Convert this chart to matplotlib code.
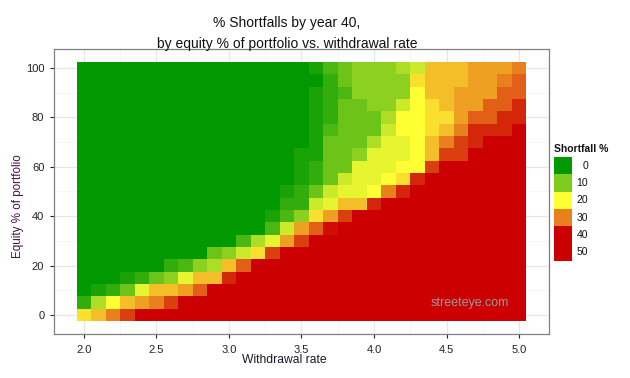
import numpy as np
import matplotlib
matplotlib.use("Agg")
import matplotlib.pyplot as plt
from matplotlib.colors import LinearSegmentedColormap

plt.rcParams['font.family'] = ['Liberation Sans', 'DejaVu Sans']

# Withdrawal rates (x) and equity % (y)
withdrawal_rates = [round(2.0 + 0.1 * i, 1) for i in range(31)]
equity_pcts = [0, 5, 10, 15, 20, 25, 30, 35, 40, 45, 50,
               55, 60, 65, 70, 75, 80, 85, 90, 95, 100]

R = 45  # fully red (>= 40)
# Shortfall % by equity level (one list per equity row, across withdrawal rates 2.0..5.0)
eq0   = [22.5, 25, 30, 35] + [R] * 27
eq5   = [4, 13.5, 20, 25, 27.5, 30, 35] + [R] * 24
eq10  = [0, 2, 4, 8.5, 18, 25, 25, 27.5, 32.5] + [R] * 22
eq15  = [0, 0, 0, 2, 4, 8.5, 11, 18, 25, 25, 37] + [R] * 20
eq20  = [0] * 6 + [4, 6, 11, 13.5, 25, 32.5] + [R] * 19
eq25  = [0] * 9 + [8.5, 11, 16, 22.5, 35] + [R] * 17
eq30  = [0] * 11 + [6, 13.5, 18, 27.5, 35] + [R] * 15
eq35  = [0] * 13 + [6, 16, 27.5, 32.5, 39] + [R] * 13
eq40  = [0] * 13 + [2, 6, 11, 22.5, 27.5, 35] + [R] * 12
eq45  = [0] * 14 + [4, 4, 16, 18, 25, 25, 37] + [R] * 10
eq50  = [0] * 14 + [2, 4, 8.5, 16, 18, 18, 20, 30, 37] + [R] * 8
eq55  = [0] * 15 + [2, 4, 8.5, 16, 18, 18, 20, 22.5, 37] + [R] * 7
eq60  = [0] * 15 + [2, 4, 8.5, 8.5, 18, 18, 18, 20, 20, 35] + [R] * 6
eq65  = [0] * 15 + [2, 2, 8.5, 8.5, 11, 18, 18, 18, 20, 25, 35, 35] + [R] * 4
eq70  = [0] * 16 + [2, 8.5, 8.5, 8.5, 13.5, 18, 18, 20, 25, 30, 35, 37] + [R] * 3
eq75  = [0] * 16 + [2, 6, 8.5, 8.5, 8.5, 16, 20, 20, 22.5, 25, 30, 37, 37, 37, R]
eq80  = [0] * 16 + [2, 4, 8.5, 8.5, 8.5, 13.5, 20, 20, 22.5, 22.5, 27.5, 32.5, 32.5, 37, 37]
eq85  = [0] * 16 + [2, 4, 8.5, 8.5, 11, 11, 16, 20, 22.5, 25, 27.5, 27.5, 32.5, 32.5, 37]
eq90  = [0] * 16 + [2, 4, 6, 11, 11, 11, 11, 20, 25, 25, 27.5, 27.5, 27.5, 32.5, 32.5]
eq95  = [0] * 17 + [4, 8.5, 11, 11, 11, 11, 22.5, 25, 25, 25, 27.5, 27.5, 30, 32.5]
eq100 = [0] * 16 + [2, 6, 8.5, 11, 11, 11, 13.5, 16, 25, 25, 25, 27.5, 27.5, 27.5, 30]

rows = [eq0, eq5, eq10, eq15, eq20, eq25, eq30, eq35, eq40, eq45, eq50,
        eq55, eq60, eq65, eq70, eq75, eq80, eq85, eq90, eq95, eq100]
Z = np.array(rows, dtype=float)

legend_breaks = [0, 10, 20, 30, 40, 50]

cmap = LinearSegmentedColormap.from_list(
    "shortfall",
    [(0.0, '#009900'), (0.2, '#80CC1E'), (0.4, '#FFFF33'),
     (0.6, '#E8801E'), (0.8, '#CC0000'), (1.0, '#CC0000')])

fig = plt.figure(figsize=(6.3, 3.78), dpi=100)
W, H = 630, 378
ax = fig.add_axes([54 / W, 1 - 334 / H, (549 - 54) / W, (334 - 49) / H])

x = np.array(withdrawal_rates)
y = np.array(equity_pcts, dtype=float)
dx = 0.1
dy = 5.0
xe = np.concatenate([x - dx / 2, [x[-1] + dx / 2]])
ye = np.concatenate([y - dy / 2, [y[-1] + dy / 2]])

# grid
for v in np.arange(2.0, 5.01, 0.5):
    ax.axvline(v, color='#E6E6E6', lw=0.9, zorder=0)
for v in np.arange(1.75, 5.3, 0.5):
    ax.axvline(v, color='#F2F2F2', lw=0.5, zorder=0)
for v in range(0, 101, 20):
    ax.axhline(v, color='#E6E6E6', lw=0.9, zorder=0)
for v in range(-10, 111, 20):
    ax.axhline(v, color='#F2F2F2', lw=0.5, zorder=0)

ax.pcolormesh(xe, ye, Z, cmap=cmap, vmin=0, vmax=50, shading='flat', zorder=2)

xr = xe[-1] - xe[0]
yr = ye[-1] - ye[0]
ax.set_xlim(xe[0] - 0.05 * xr, xe[-1] + 0.05 * xr)
ax.set_ylim(ye[0] - 0.05 * yr, ye[-1] + 0.05 * yr)

ax.set_xticks(np.arange(2.0, 5.01, 0.5))
ax.set_xticklabels([f"{v:.1f}" for v in np.arange(2.0, 5.01, 0.5)])
ax.set_yticks(range(0, 101, 20))
ax.tick_params(axis='both', labelsize=8, colors='#222222', length=3, width=0.8,
               direction='out')
ax.tick_params(axis='x', pad=5)
ax.tick_params(axis='y', pad=4)
for sp in ax.spines.values():
    sp.set_color('#808080')
    sp.set_linewidth(0.9)

fig.text(284.5 / W, 1 - 360 / H, "Withdrawal rate", ha='center', va='center',
         fontsize=8.7, color='#1a1a2a')
fig.text(18 / W, 1 - 206 / H, "Equity % of portfolio", ha='center', va='center',
         rotation=90, fontsize=8.4, color='#4a1048')

fig.text(287 / W, 1 - 23 / H, "% Shortfalls by year 40,", ha='center', va='center',
         fontsize=10, color='#111111')
fig.text(287 / W, 1 - 44 / H, "by equity % of portfolio vs. withdrawal rate",
         ha='center', va='center', fontsize=10, color='#111111')

ax.text(4.66, 4.9, "streeteye.com", fontsize=9, color='#9A9A9A', ha='center', va='center',
        zorder=5)

# legend
lax = fig.add_axes([554 / W, 1 - 261 / H, 18 / W, 104 / H])
lv = np.array(legend_breaks, dtype=float).reshape(-1, 1)
lax.imshow(lv, cmap=cmap, vmin=0, vmax=50, aspect='auto', interpolation='nearest')
lax.set_axis_off()
key_h = 104 / len(legend_breaks)
for i, b in enumerate(legend_breaks):
    yc = 157 + key_h * (i + 0.5)
    fig.text(588 / W, 1 - yc / H, str(b), ha='right', va='center', fontsize=7.5,
             color='#111111')
fig.text(554 / W, 1 - 149 / H, "Shortfall %", ha='left', va='center', fontsize=7.5,
         fontweight='bold', color='#111111')

fig.savefig("out.png", dpi=100)
